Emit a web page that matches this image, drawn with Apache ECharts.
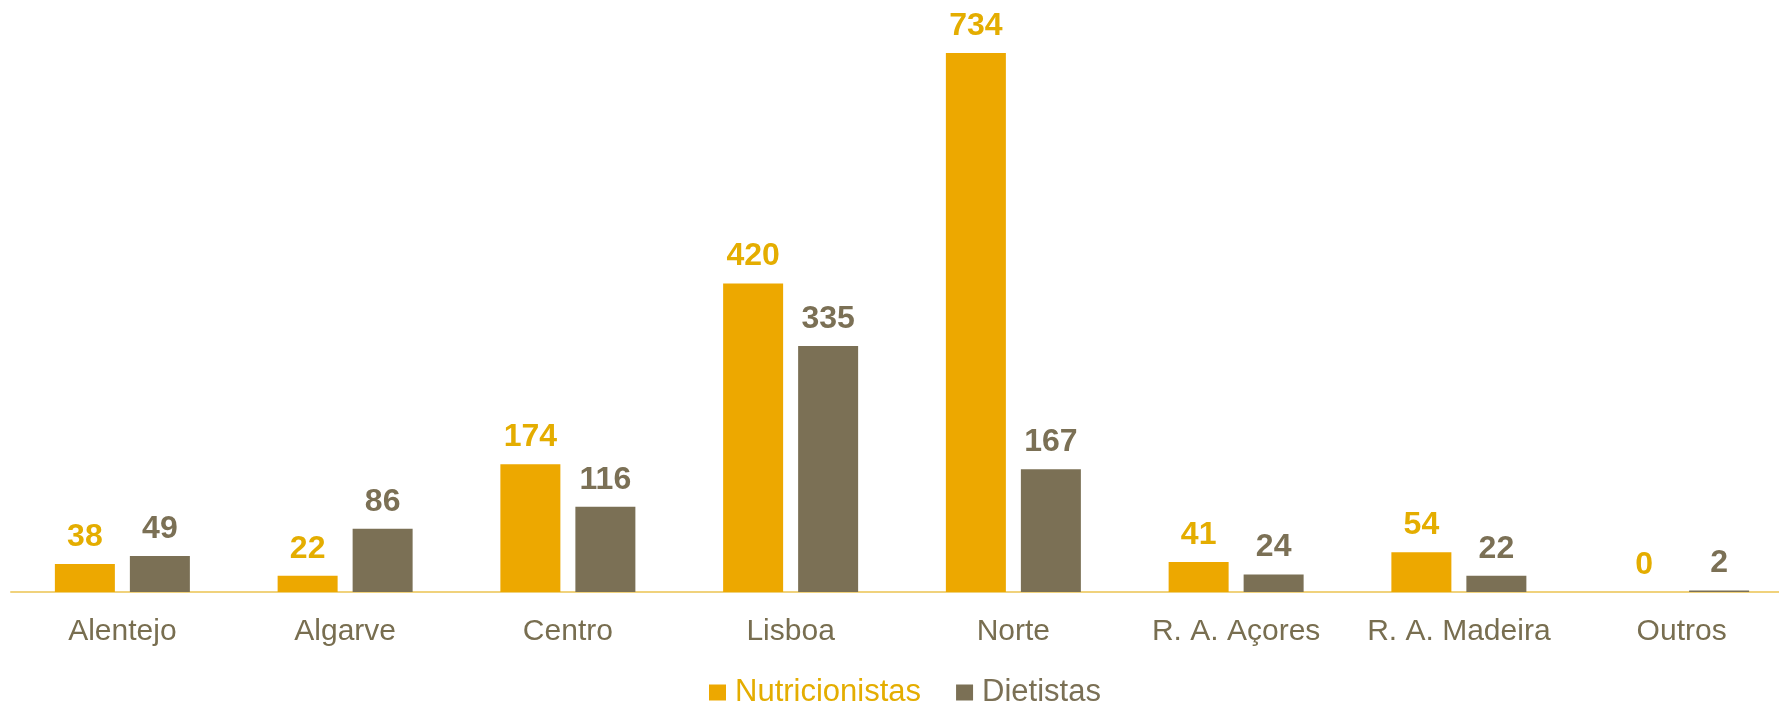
<!DOCTYPE html>
<html>
<head>
<meta charset="utf-8">
<script src="https://cdn.jsdelivr.net/npm/echarts@6/dist/echarts.min.js"></script>
<style>
    html, body { margin: 0; padding: 0; background: #fff; }
    #chart { width: 1779px; height: 703px; }
</style>
</head>
<body>
<div id="chart"></div>
<script>
    const regions = ['Alentejo', 'Algarve', 'Centro', 'Lisboa', 'Norte', 'R. A. Açores', 'R. A. Madeira', 'Outros'];
    const nutricionistas = [38, 22, 174, 420, 734, 41, 54, 0];
    const dietistas = [49, 86, 116, 335, 167, 24, 22, 2];

    const orange = '#EDA800';
    const orangeText = '#E4AD00';
    const grey = '#7B7055';

    const chart = echarts.init(document.getElementById('chart'));
    const labelStyle = (color) => ({
        show: true,
        position: 'top',
        distance: 11,
        color: color,
        fontFamily: 'Liberation Sans',
        fontWeight: 'bold',
        fontSize: 32
    });
    chart.setOption({
        animation: false,
        textStyle: { fontFamily: 'Liberation Sans' },
        grid: { left: 11, width: 1782, top: 53, bottom: 111, outerBoundsMode: 'none', containLabel: false },
        legend: {
            top: 677,
            left: 709,
            padding: 0,
            itemWidth: 17,
            itemHeight: 16,
            itemGap: 35,
            icon: 'rect',
            textStyle: { fontSize: 31, fontFamily: 'Liberation Sans', padding: [0, 0, 0, 4] },
            data: [
                { name: 'Nutricionistas', textStyle: { color: orangeText } },
                { name: 'Dietistas', textStyle: { color: grey } }
            ]
        },
        xAxis: {
            type: 'category',
            data: regions,
            axisLine: { lineStyle: { color: '#F0D27C', width: 2 } },
            axisTick: { show: false },
            axisLabel: { color: '#786E50', fontSize: 30, margin: 25, interval: 0 }
        },
        yAxis: {
            type: 'value',
            min: 0,
            max: 734,
            show: false,
            splitLine: { show: false }
        },
        series: [
            {
                name: 'Nutricionistas',
                type: 'bar',
                data: nutricionistas,
                barWidth: 60,
                barGap: '25%',
                itemStyle: { color: orange },
                label: labelStyle(orangeText)
            },
            {
                name: 'Dietistas',
                type: 'bar',
                data: dietistas,
                barWidth: 60,
                itemStyle: { color: grey },
                label: labelStyle(grey)
            }
        ]
    });
</script>
</body>
</html>
